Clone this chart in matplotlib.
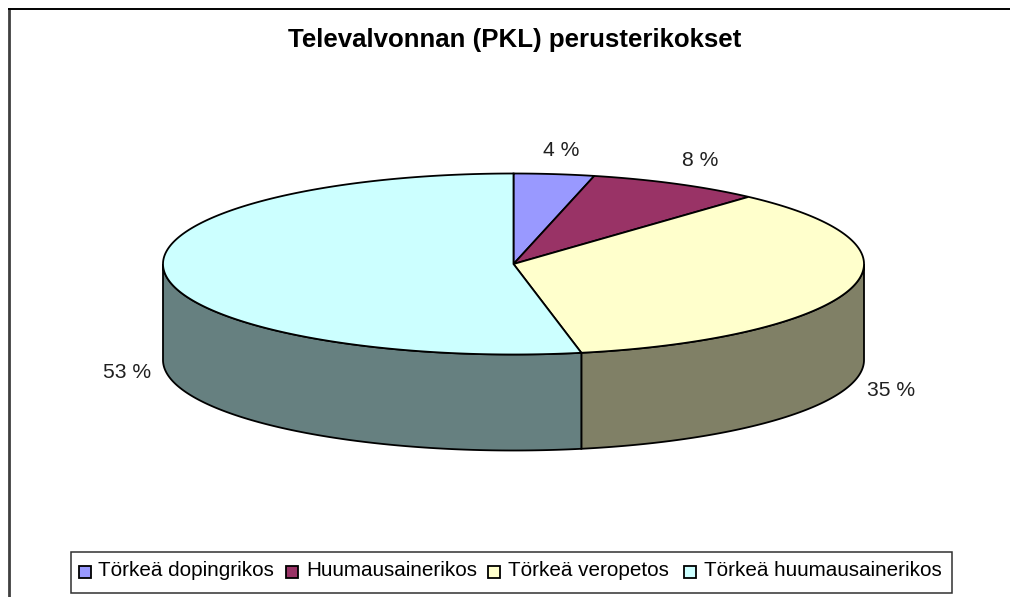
import numpy as np
import matplotlib
matplotlib.use("Agg")
import matplotlib.pyplot as plt
from matplotlib.patches import Polygon, Rectangle

plt.rcParams['font.family'] = ['Liberation Sans', 'DejaVu Sans']

title = "Televalvonnan (PKL) perusterikokset"
categories = ["Törkeä dopingrikos", "Huumausainerikos", "Törkeä veropetos", "Törkeä huumausainerikos"]
values = [3.7, 8.0, 35.2, 53.1]
labels = ["4 %", "8 %", "35 %", "53 %"]
colors = ["#9999FF", "#993366", "#FFFFCC", "#CCFFFF"]
side_colors = ["#666699", "#662244", "#808066", "#668080"]

W, H = 1010, 597
fig = plt.figure(figsize=(W / 100, H / 100), dpi=100)
ax = fig.add_axes([0, 0, 1, 1])
ax.set_xlim(0, W)
ax.set_ylim(H, 0)
ax.axis("off")

CX, CY, RX, RY, DEPTH = 513.5, 264, 350.5, 90.5, 96


def ell(t):
    return CX + RX * np.sin(t), CY - RY * np.cos(t)


fracs = np.cumsum([0] + values) / sum(values) * 2 * np.pi

# frame: the right side is cropped off in the reference
ax.plot([9, 9], [H, 8], color="#404040", lw=2.0, zorder=1, solid_capstyle="butt")
ax.plot([8, W], [8.5, 8.5], color="black", lw=1.4, zorder=1, solid_capstyle="butt")

# side walls (only visible lower half of the ellipse)
for i in range(len(values)):
    a, b = max(fracs[i], np.pi / 2), min(fracs[i + 1], 3 * np.pi / 2)
    if b <= a:
        continue
    t = np.linspace(a, b, 200)
    x, y = ell(t)
    pts = np.r_[np.c_[x, y], np.c_[x, y + DEPTH][::-1]]
    ax.add_patch(Polygon(pts, closed=True, fc=side_colors[i], ec="black", lw=1.3, zorder=2))

# top faces
for i in range(len(values)):
    t = np.linspace(fracs[i], fracs[i + 1], 300)
    x, y = ell(t)
    pts = np.r_[[[CX, CY]], np.c_[x, y]]
    ax.add_patch(Polygon(pts, closed=True, fc=colors[i], ec="black", lw=1.3, zorder=3))

# title and slice labels
ax.text(515, 40.5, title, ha="center", va="center", fontsize=18.6, fontweight="bold", color="black")
label_xy = [(561, 151), (700, 161), (891, 390), (127, 372)]
for s, (lx, ly) in zip(labels, label_xy):
    ax.text(lx, ly, s, ha="center", va="center", fontsize=15.2, color="#202020")

# legend
ax.add_patch(Rectangle((71, 551.5), 881, 41.5, fc="white", ec="#303030", lw=1.1, zorder=4))
sw = [79, 286, 488, 684]
tx = [98, 306, 508, 704]
for c, s, a, b in zip(colors, categories, sw, tx):
    ax.add_patch(Rectangle((a, 566), 12, 12, fc=c, ec="black", lw=1.3, zorder=5))
    ax.text(b, 570, s, ha="left", va="center", fontsize=14.85, color="black", zorder=5)

fig.savefig("out.png", dpi=100)
